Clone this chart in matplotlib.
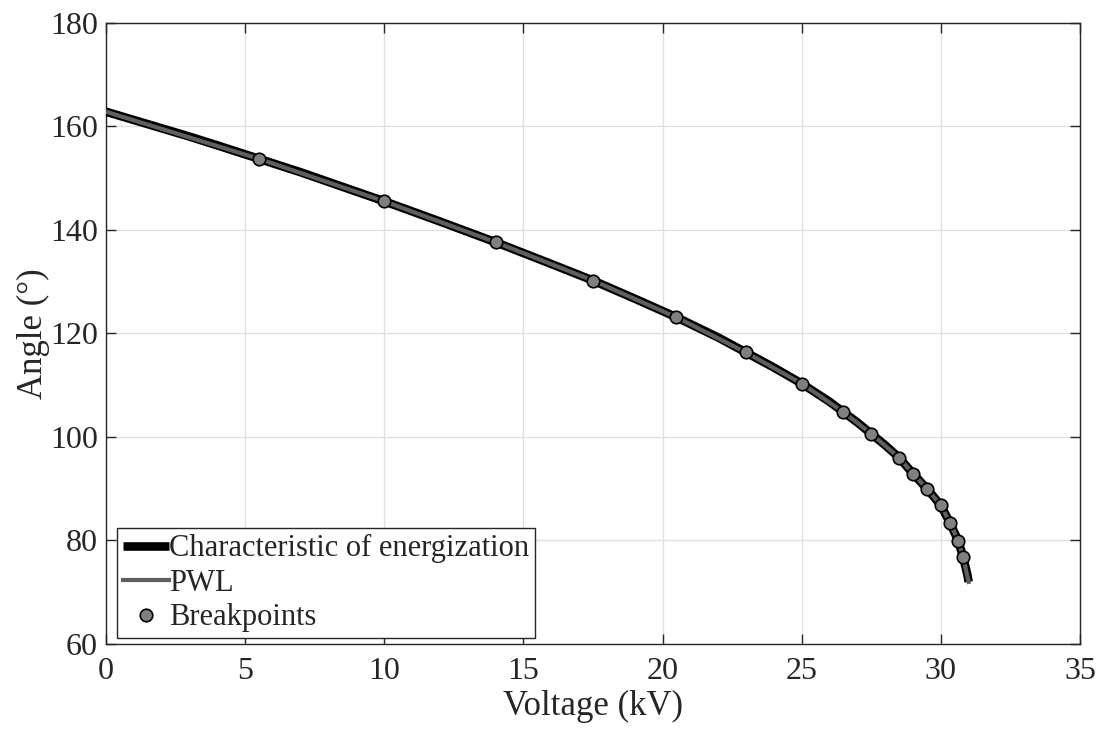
import numpy as np
import matplotlib
matplotlib.use("Agg")
import matplotlib.pyplot as plt

# -----------------------------------------------------
# data
# -----------------------------------------------------

# energization characteristic (voltage in kV, angle in degrees)
char_v = [0, 1, 2, 3, 4, 5.5, 7, 8.5, 10, 12, 14, 16, 17.5, 19, 20.5, 22, 23,
          24, 25, 26, 26.5, 27, 27.5, 28, 28.5, 29, 29.5, 30, 30.33, 30.63,
          30.8, 30.95, 31.0]
char_ang = [162.8, 161.2, 159.6, 158.0, 156.3, 153.7, 151.1, 148.3, 145.5,
            141.6, 137.6, 133.4, 130.2, 126.7, 123.1, 119.2, 116.3, 113.4,
            110.3, 106.8, 104.8, 102.8, 100.6, 98.4, 96.0, 92.9, 90.0, 86.8,
            83.4, 79.9, 76.8, 73.5, 72.0]

# breakpoints of the piecewise-linear fit
bp_v = [5.5, 10, 14, 17.5, 20.5, 23, 25, 26.5, 27.5, 28.5, 29, 29.5, 30,
        30.33, 30.63, 30.8]
bp_ang = [153.7, 145.5, 137.6, 130.2, 123.1, 116.3, 110.3, 104.8, 100.6,
          96.0, 92.9, 90.0, 86.8, 83.4, 79.9, 76.8]

# PWL = start point + breakpoints + end point
pwl_v = [char_v[0]] + bp_v + [char_v[-1]]
pwl_ang = [char_ang[0]] + bp_ang + [char_ang[-1]]

x_ticks = [0, 5, 10, 15, 20, 25, 30, 35]
y_ticks = [60, 80, 100, 120, 140, 160, 180]

# -----------------------------------------------------
# style
# -----------------------------------------------------

txt = "#262626"
plt.rcParams["font.family"] = ["Liberation Serif", "DejaVu Serif"]
plt.rcParams["font.size"] = 23
plt.rcParams["text.color"] = txt
plt.rcParams["axes.labelcolor"] = txt
plt.rcParams["xtick.color"] = txt
plt.rcParams["ytick.color"] = txt

fig = plt.figure(figsize=(11.03, 7.31), dpi=100)
ax = fig.add_axes([0.0961, 0.119, 0.883, 0.850])

ax.plot(char_v, char_ang, color="black", lw=6.2, solid_capstyle="butt",
        label="Characteristic of energization", zorder=3)
ax.plot(pwl_v, pwl_ang, color="#5f5f5f", lw=3.0, label="PWL", zorder=4)
ax.plot(bp_v, bp_ang, linestyle="none", marker="o", ms=9,
        mfc="#808080", mec="black", mew=1.2, label="Breakpoints", zorder=5)

ax.set_xlim(0, 35)
ax.set_ylim(60, 180)
ax.set_xticks(x_ticks)
ax.set_yticks(y_ticks)
ax.set_xlabel("Voltage (kV)", fontsize=25, labelpad=3)
ax.set_ylabel("Angle (°)", fontsize=25, labelpad=0)

ax.grid(True, color="#dfdfdf", lw=0.9)
ax.set_axisbelow(True)
for s in ax.spines.values():
    s.set_color(txt)
    s.set_linewidth(1.0)
ax.tick_params(direction="in", length=7, width=1.0, top=True, right=True,
               labelsize=23)
ax.tick_params(axis="x", pad=9)
ax.tick_params(axis="y", pad=6)

leg = ax.legend(loc="lower left", bbox_to_anchor=(0.011, 0.009),
                fontsize=22, frameon=True, fancybox=False,
                edgecolor=txt, framealpha=1, handlelength=1.5,
                handletextpad=0.0, borderpad=0.2, labelspacing=0.18,
                borderaxespad=0)
leg.get_frame().set_linewidth(1.0)

fig.savefig("out.png", dpi=100)
